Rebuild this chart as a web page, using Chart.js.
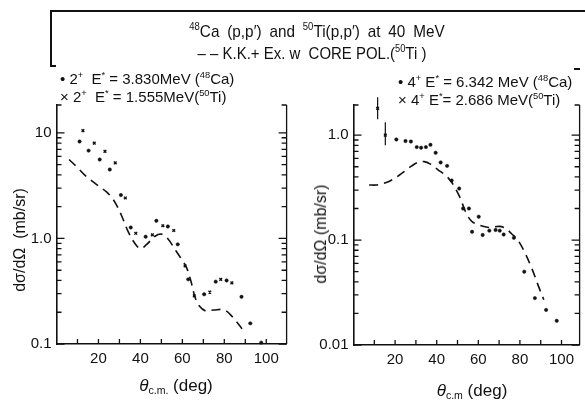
<!DOCTYPE html>
<html>
<head>
<meta charset="utf-8">
<script src="https://cdn.jsdelivr.net/npm/chart.js@4/dist/chart.umd.min.js"></script>
<style>
  html, body { margin: 0; padding: 0; background: #fff; }
  #wrap { position: relative; width: 585px; height: 402px; overflow: hidden; font-family: "Liberation Sans", Arial, sans-serif; color: #111; }
  canvas { position: absolute; top: 0; }
  .t { position: absolute; white-space: nowrap; line-height: 1; }
  .c { transform: translate(-50%, -50%); }
  .l { transform: translate(0, -50%); }
  .v { transform: translate(-50%, -50%) rotate(-90deg); }
  sup { font-size: 62%; vertical-align: 0.6em; line-height: 0; }
  sub { font-size: 62%; vertical-align: -0.3em; line-height: 0; }
  .frame { position: absolute; background: #111; }
</style>
</head>
<body>
<div id="wrap">
  <canvas id="left" width="292" height="402" style="left:0"></canvas>
  <canvas id="right" width="293" height="402" style="left:292px"></canvas>

  <div class="frame" style="left:50px; top:10px; width:535px; height:1.5px"></div>
  <div class="frame" style="left:50px; top:10px; width:1.5px; height:56px"></div>
  <div class="frame" style="left:50px; top:65px; width:6px; height:1.5px"></div>
  <div class="frame" style="left:574px; top:68px; width:6px; height:1.5px"></div>

  <div class="t c" style="left:317px; top:31px; font-size:17px; transform: translate(-50%, -50%) scaleX(0.9); word-spacing: 4px"><sup>48</sup>Ca (p,p′)  and  <sup>50</sup>Ti(p,p′) at 40 MeV</div>
  <div class="t c" style="left:312px; top:53px; font-size:17px; transform: translate(-50%, -50%) scaleX(0.88)">– – K.K.+ Ex. w&nbsp; CORE POL.(<sup>50</sup>Ti )</div>

  <div class="t l" style="left:60px; top:78px; font-size:15px">• 2<sup>+</sup>&nbsp; E<sup>*</sup> = 3.830MeV (<sup>48</sup>Ca)</div>
  <div class="t l" style="left:60px; top:96px; font-size:15px">× 2<sup>+</sup>&nbsp; E<sup>*</sup> = 1.555MeV(<sup>50</sup>Ti)</div>
  <div class="t l" style="left:398px; top:81px; font-size:15px">• 4<sup>+</sup> E<sup>*</sup> = 6.342 MeV (<sup>48</sup>Ca)</div>
  <div class="t l" style="left:398px; top:99px; font-size:15px">× 4<sup>+</sup> E<sup>*</sup>= 2.686 MeV(<sup>50</sup>Ti)</div>

  <div class="t v" style="left:20px; top:240px; font-size:16px">dσ/dΩ&nbsp; (mb/sr)</div>
  <div class="t v" style="left:321px; top:234px; font-size:16px">dσ/dΩ (mb/sr)</div>

  <div class="t c" style="left:176px; top:385px; font-size:17px"><i>θ</i><sub>c.m.</sub> (deg)</div>
  <div class="t c" style="left:472px; top:390px; font-size:17px"><i>θ</i><sub>c.m</sub> (deg)</div>
</div>

<script>
const INK = '#111';

// 2+ states, left panel
const leftCaDeg = [11.0, 15.3, 20.6, 25.4, 30.7, 35.4, 42.5, 47.6, 53.1, 57.8, 62.8, 70.4, 75.9, 81.1, 88.2, 92.4, 97.6];
const leftCaVal = [8.3, 6.8, 5.6, 4.5, 2.58, 1.27, 1.04, 1.47, 1.30, 0.88, 0.41, 0.296, 0.39, 0.40, 0.28, 0.157, 0.103];
const leftTiDeg = [12.6, 18.0, 23.1, 28.0, 32.8, 37.8, 45.7, 50.7, 55.9, 61.3, 65.7, 73.1, 78.3, 83.6];
const leftTiVal = [10.5, 8.0, 6.7, 5.2, 2.42, 1.12, 1.08, 1.32, 1.19, 0.55, 0.286, 0.31, 0.41, 0.38];
const leftCalcDeg = [6, 10, 14, 20, 24, 27, 29, 31, 34, 37, 40, 43, 47, 50, 53, 57, 60, 62, 64, 66, 68, 71, 75, 80, 84, 87, 89.5];
const leftCalcVal = [5.6, 4.7, 3.9, 3.15, 2.75, 2.35, 2.0, 1.65, 1.18, 0.92, 0.8, 0.88, 1.05, 1.1, 1.0, 0.76, 0.62, 0.53, 0.4, 0.28, 0.23, 0.206, 0.21, 0.21, 0.18, 0.152, 0.13];

// 4+ states, right panel
const rightCaDeg = [20.6, 25.0, 27.6, 30.4, 32.5, 34.8, 37.0, 39.5, 41.9, 45.0, 47.2, 50.8, 52.7, 55.5, 57.0, 60.2, 62.1, 65.3, 68.3, 70.3, 72.2, 77.1, 82.1, 87.2, 92.6, 97.7];
const rightCaVal = [0.91, 0.88, 0.87, 0.77, 0.76, 0.77, 0.81, 0.68, 0.55, 0.51, 0.37, 0.31, 0.20, 0.20, 0.12, 0.167, 0.112, 0.123, 0.125, 0.123, 0.113, 0.105, 0.050, 0.028, 0.0216, 0.017];
const rightTiDeg = [11.6, 15.3];
const rightTiVal = [1.8, 1.0];
const rightTiHi = [2.3, 1.33];
const rightTiLo = [1.42, 0.80];
const rightCalcDeg = [7.5, 11, 14, 18, 22, 25, 28, 31, 34, 37, 40.5, 44.5, 47, 49, 51, 54.5, 57, 60, 65, 70, 73, 76, 79, 82.5, 86, 89, 91.5];
const rightCalcVal = [0.335, 0.335, 0.345, 0.37, 0.415, 0.46, 0.51, 0.55, 0.56, 0.53, 0.47, 0.41, 0.36, 0.31, 0.26, 0.175, 0.15, 0.14, 0.132, 0.135, 0.13, 0.115, 0.1, 0.075, 0.052, 0.036, 0.027];

// axis ticks
const xTickValues = [0, 10, 20, 30, 40, 50, 60, 70, 80, 90, 100];
const xTickLabels = ['', '', '20', '', '40', '', '60', '', '80', '', '100'];
const leftDecades = [0.1, 1, 10];
const leftDecadeLabels = ['0.1', '1.0', '10'];
const rightDecades = [0.01, 0.1, 1];
const rightDecadeLabels = ['0.01', '0.1', '1.0'];

function logTicks(decades, max) {
  const out = [];
  decades.forEach(d => {
    for (let m = 1; m <= 9; m++) {
      const v = +(d * m).toPrecision(3);
      if (v <= max) out.push(v);
    }
  });
  return out;
}

const pts = (xs, ys) => xs.map((x, i) => ({ x, y: ys[i] }));

// ticks drawn inward, right border, top hooks, error bars
const frameTicks = {
  id: 'frameTicks',
  afterDraw(chart, args, opts) {
    const { ctx, chartArea: a, scales: { x, y } } = chart;
    ctx.save();
    ctx.strokeStyle = INK;
    ctx.lineWidth = 1.3;
    ctx.beginPath();
    ctx.moveTo(a.right, a.top);
    ctx.lineTo(a.right, a.bottom);
    ctx.moveTo(a.left, a.top);
    ctx.lineTo(a.left + 5, a.top);
    ctx.moveTo(a.right, a.top);
    ctx.lineTo(a.right - 5, a.top);
    y.ticks.forEach(t => {
      const py = y.getPixelForValue(t.value);
      const major = opts.decades.includes(t.value);
      const len = major ? 8 : 5;
      ctx.moveTo(a.left, py); ctx.lineTo(a.left + len, py);
      ctx.moveTo(a.right, py); ctx.lineTo(a.right - len, py);
    });
    x.ticks.forEach(t => {
      if (t.value <= 0) return;
      const px = x.getPixelForValue(t.value);
      ctx.moveTo(px, a.bottom); ctx.lineTo(px, a.bottom - 5);
    });
    ctx.stroke();

    if (opts.err) {
      ctx.lineWidth = 1.2;
      ctx.beginPath();
      opts.err.deg.forEach((d, i) => {
        const px = x.getPixelForValue(d);
        ctx.moveTo(px, y.getPixelForValue(opts.err.hi[i]));
        ctx.lineTo(px, y.getPixelForValue(opts.err.lo[i]));
      });
      ctx.stroke();
    }
    ctx.restore();
  }
};

function makeChart(id, cfg) {
  return new Chart(document.getElementById(id), {
    type: 'scatter',
    data: {
      datasets: [
        {
          type: 'line', data: pts(cfg.calcDeg, cfg.calcVal),
          borderColor: INK, borderWidth: 1.6, borderDash: [9, 6],
          pointRadius: 0, tension: 0.35, fill: false, clip: false
        },
        {
          data: pts(cfg.caDeg, cfg.caVal),
          pointStyle: 'circle', pointRadius: 1.7,
          backgroundColor: INK, borderColor: INK, borderWidth: 0.5, clip: false
        },
        {
          data: pts(cfg.tiDeg, cfg.tiVal),
          pointStyle: 'crossRot', pointRadius: 1.9,
          borderColor: INK, borderWidth: 1.4, clip: false
        }
      ]
    },
    options: {
      responsive: false,
      animation: false,
      devicePixelRatio: 1,
      layout: { padding: { top: 105, right: cfg.padRight, left: 0, bottom: 0 } },
      plugins: {
        legend: { display: false },
        tooltip: { enabled: false },
        frameTicks: { decades: cfg.decades, err: cfg.err }
      },
      scales: {
        x: {
          type: 'linear', min: 0, max: cfg.xMax,
          afterBuildTicks: s => { s.ticks = xTickValues.map(v => ({ value: v })); },
          afterFit: s => { s.height = cfg.xHeight; },
          grid: { display: false, drawTicks: false },
          border: { display: true, color: INK, width: 1.6 },
          ticks: {
            autoSkip: false, maxRotation: 0, padding: 6, color: INK,
            font: { family: 'Liberation Sans', size: 15 },
            callback: v => xTickLabels[xTickValues.indexOf(v)] || ''
          }
        },
        y: {
          type: 'logarithmic', min: cfg.yMin, max: cfg.yMax,
          afterBuildTicks: s => { s.ticks = logTicks(cfg.decades, cfg.yMax).map(v => ({ value: v })); },
          afterFit: s => { s.width = cfg.yWidth; },
          grid: { display: false, drawTicks: false },
          border: { display: true, color: INK, width: 1.6 },
          ticks: {
            autoSkip: false, padding: 5, color: INK,
            font: { family: 'Liberation Sans', size: 15 },
            callback: v => {
              const i = cfg.decades.indexOf(v);
              return i >= 0 ? cfg.decadeLabels[i] : '';
            }
          }
        }
      }
    },
    plugins: [frameTicks]
  });
}

makeChart('left', {
  calcDeg: leftCalcDeg, calcVal: leftCalcVal,
  caDeg: leftCaDeg, caVal: leftCaVal,
  tiDeg: leftTiDeg, tiVal: leftTiVal,
  decades: leftDecades, decadeLabels: leftDecadeLabels,
  yMin: 0.1, yMax: 18.4, xMax: 109.7,
  yWidth: 56.5, xHeight: 58, padRight: 3
});

makeChart('right', {
  calcDeg: rightCalcDeg, calcVal: rightCalcVal,
  caDeg: rightCaDeg, caVal: rightCaVal,
  tiDeg: rightTiDeg, tiVal: rightTiVal,
  decades: rightDecades, decadeLabels: rightDecadeLabels,
  err: { deg: rightTiDeg, hi: rightTiHi, lo: rightTiLo },
  yMin: 0.01, yMax: 1.94, xMax: 108.7,
  yWidth: 61.5, xHeight: 57, padRight: 1
});
</script>
</body>
</html>
